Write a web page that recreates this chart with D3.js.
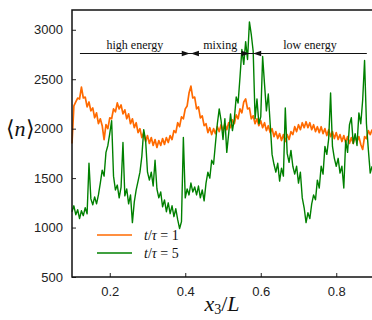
<!DOCTYPE html>
<html>
<head>
<meta charset="utf-8">
<script src="https://cdn.jsdelivr.net/npm/d3@7"></script>
<style>
  body { margin: 0; background: #fff; }
  svg { display: block; }
  .tick text { font-family: "Liberation Sans", Arial, sans-serif; font-size: 13px; fill: #222; }
  .serif { font-family: "Liberation Serif", "Times New Roman", serif; fill: #111; }
</style>
</head>
<body>
<svg id="chart" width="372" height="320"></svg>
<script>
// sample positions along x3/L
const x3 = [
  0.100, 0.105, 0.110, 0.115, 0.120, 0.125, 0.130, 0.135, 0.140, 0.145,
  0.150, 0.155, 0.160, 0.165, 0.170, 0.175, 0.180, 0.185, 0.190, 0.195,
  0.200, 0.205, 0.210, 0.215, 0.220, 0.225, 0.230, 0.235, 0.240, 0.245,
  0.250, 0.255, 0.260, 0.265, 0.270, 0.275, 0.280, 0.285, 0.290, 0.295,
  0.300, 0.305, 0.310, 0.315, 0.320, 0.325, 0.330, 0.335, 0.340, 0.345,
  0.350, 0.355, 0.360, 0.365, 0.370, 0.375, 0.380, 0.385, 0.390, 0.395,
  0.400, 0.405, 0.410, 0.415, 0.420, 0.425, 0.430, 0.435, 0.440, 0.445,
  0.450, 0.455, 0.460, 0.465, 0.470, 0.475, 0.480, 0.485, 0.490, 0.495,
  0.500, 0.505, 0.510, 0.515, 0.520, 0.525, 0.530, 0.535, 0.540, 0.545,
  0.550, 0.555, 0.560, 0.565, 0.570, 0.575, 0.580, 0.585, 0.590, 0.595,
  0.600, 0.605, 0.610, 0.615, 0.620, 0.625, 0.630, 0.635, 0.640, 0.645,
  0.650, 0.655, 0.660, 0.665, 0.670, 0.675, 0.680, 0.685, 0.690, 0.695,
  0.700, 0.705, 0.710, 0.715, 0.720, 0.725, 0.730, 0.735, 0.740, 0.745,
  0.750, 0.755, 0.760, 0.765, 0.770, 0.775, 0.780, 0.785, 0.790, 0.795,
  0.800, 0.805, 0.810, 0.815, 0.820, 0.825, 0.830, 0.835, 0.840, 0.845,
  0.850, 0.855, 0.860, 0.865, 0.870, 0.875, 0.880, 0.885, 0.890, 0.895
];

// <n> at t/tau = 1
const nT1 = [
  1850, 2230, 2270, 2310, 2300, 2420, 2310, 2320, 2220, 2270,
  2180, 2210, 2110, 2160, 2050, 2100, 2030, 1890, 2040, 2000,
  2110, 2100, 2200, 2170, 2260, 2200, 2240, 2150, 2190, 2100,
  2150, 2050, 2100, 2010, 2060, 1960, 2000, 1910, 1960, 1870,
  1930, 1850, 1910, 1830, 1890, 1810, 1880, 1830, 1900, 1840,
  1910, 1860, 1930, 1890, 1980, 1960, 2060, 2020, 2120, 2100,
  2200, 2230, 2360, 2430, 2310, 2320, 2200, 2220, 2110, 2130,
  2030, 2050, 1960, 2010, 1940, 2000, 1950, 2020, 1970, 2040,
  1980, 2050, 1990, 2060, 2010, 2090, 2050, 2140, 2100, 2200,
  2160, 2270, 2300, 2200, 2210, 2100, 2130, 2050, 2100, 2030,
  2080, 2010, 2060, 1980, 2030, 1960, 2000, 1920, 1970, 1900,
  1950, 1880, 1940, 1870, 1940, 1890, 1970, 1940, 2020, 1970,
  2040, 1990, 2060, 2010, 2070, 2010, 2060, 1990, 2040, 1970,
  2020, 1960, 2020, 1950, 2000, 1930, 1990, 1920, 1970, 1900,
  1960, 1890, 1940, 1870, 1930, 1860, 1920, 1850, 1910, 1850,
  1920, 1870, 1920, 1840, 1790, 1920, 1900, 1980, 1940, 1990
];

// <n> at t/tau = 5
const nT5 = [
  1160, 1220, 1130, 1180, 1090, 1170, 1120, 1200, 1140, 1650,
  1290, 1230, 1310, 1240, 1330, 1450, 1580, 1520, 1760, 1830,
  1950, 2080, 1520, 1380, 1430, 1300, 1410, 1860, 1320, 1390,
  1240, 1330, 1050, 1260, 1380, 1470, 1560, 1720, 1990, 1880,
  1560, 1480, 1560, 1420, 1680, 1390, 1300, 1360, 1210, 1280,
  1160, 1250, 1140, 1220, 1110, 1190, 1080, 990, 1060, 1910,
  1300, 1390, 1330, 1450, 1360, 1410, 1330, 1420, 1300, 1380,
  1270, 1450, 1560, 1500, 1680, 1640, 1850, 2050, 2200, 2080,
  1890, 2100, 1760, 1950, 2150, 1980, 2100, 2320, 2260, 2520,
  2800, 2650, 2880, 2700, 3080, 2950, 2780, 2100, 2300, 2050,
  2120, 2730, 2450, 2180, 2350, 2050, 1740, 1640, 1560, 1650,
  1470, 1600, 1520, 2210, 1750, 1660, 1780, 1620, 1540, 1620,
  1450, 1560, 1300, 1200, 1050, 1150, 1090, 1240, 1330, 1280,
  1480, 1400, 1620, 1540, 1820, 1740, 1900, 2360, 1820, 1700,
  1620, 1700, 1550, 1620, 1400, 1880, 1760, 2040, 2110, 1850,
  1950, 1830, 2160, 2050, 2290, 2690, 2050, 1790, 1550, 1620
];

const xTicks = [0.2, 0.4, 0.6, 0.8];
const yTicks = [500, 1000, 1500, 2000, 2500, 3000];

// region annotations: [label, start, end]
const regions = [
  ['high energy', 0.121, 0.412],
  ['mixing', 0.415, 0.570],
  ['low energy', 0.580, 0.881]
];
const regionLevel = 2760;

const legendItems = [
  { t: '1', color: '#ff6a00' },
  { t: '5', color: '#008000' }
];

const svg = d3.select('#chart');
const margin = { left: 72, top: 10, bottom: 43 };
const height = 320;

const x = d3.scaleLinear().domain([0.1, 0.9]).range([margin.left, 374]);
const y = d3.scaleLinear().domain([500, 3200]).range([height - margin.bottom, margin.top]);

const plot = svg.append('g');
const line = (vals) => d3.line().x((d, i) => x(x3[i])).y((d) => y(d))(vals);

plot.append('path')
  .attr('d', line(nT1))
  .attr('fill', 'none')
  .attr('stroke', legendItems[0].color)
  .attr('stroke-width', 1.7)
  .attr('stroke-linejoin', 'round');

plot.append('path')
  .attr('d', line(nT5))
  .attr('fill', 'none')
  .attr('stroke', legendItems[1].color)
  .attr('stroke-width', 1.4)
  .attr('stroke-linejoin', 'round');

// axes, ticks pointing inward
const xAxis = d3.axisBottom(x).tickValues(xTicks).tickSizeInner(-4).tickSizeOuter(0).tickPadding(10)
  .tickFormat(d3.format('.1f'));
svg.append('g')
  .attr('transform', `translate(0,${y(500)})`)
  .call(xAxis)
  .call((g) => g.select('.domain').remove());

const yAxis = d3.axisLeft(y).tickValues(yTicks).tickSizeInner(-4).tickSizeOuter(0).tickPadding(9)
  .tickFormat(d3.format('d'));
svg.append('g')
  .attr('transform', `translate(${margin.left},0)`)
  .call(yAxis)
  .call((g) => g.select('.domain').remove());

svg.selectAll('.tick line').attr('stroke', '#222');

// frame
svg.append('rect')
  .attr('x', x(0.1)).attr('y', y(3200))
  .attr('width', x(0.9) - x(0.1)).attr('height', y(500) - y(3200))
  .attr('fill', 'none').attr('stroke', '#111').attr('stroke-width', 1.5);

// region annotations with arrows
const ay = y(regionLevel);
const ann = svg.append('g');
ann.append('line')
  .attr('x1', x(regions[0][1])).attr('x2', x(regions[2][2]))
  .attr('y1', ay).attr('y2', ay)
  .attr('stroke', '#111').attr('stroke-width', 1.2);

const arrowHead = (tip, dir) => {
  const len = 8, half = 2.8;
  ann.append('path')
    .attr('d', `M${tip},${ay}L${tip - dir * len},${ay - half}L${tip - dir * len},${ay + half}Z`)
    .attr('fill', '#111');
};
arrowHead(x(regions[0][2]), 1);
arrowHead(x(regions[1][1]), -1);
arrowHead(x(regions[1][2]), 1);
arrowHead(x(regions[2][1]), -1);

ann.selectAll('text.region')
  .data(regions)
  .join('text')
  .attr('class', 'region serif')
  .attr('x', (d) => x((d[1] + d[2]) / 2))
  .attr('y', ay - 5)
  .attr('text-anchor', 'middle')
  .attr('font-size', 12)
  .text((d) => d[0]);

// legend
const leg = svg.append('g');
legendItems.forEach((item, i) => {
  const ly = 235 + i * 18;
  leg.append('line')
    .attr('x1', 97).attr('x2', 132).attr('y1', ly).attr('y2', ly)
    .attr('stroke', item.color).attr('stroke-width', 1.5);
  const txt = leg.append('text')
    .attr('class', 'serif')
    .attr('x', 144).attr('y', ly + 5)
    .attr('font-size', 14);
  txt.append('tspan').attr('font-style', 'italic').text('t');
  txt.append('tspan').text('/');
  txt.append('tspan').attr('font-style', 'italic').text('τ');
  txt.append('tspan').text(' = ' + item.t);
});

// axis titles
const xt = svg.append('text')
  .attr('class', 'serif')
  .attr('x', 222).attr('y', 311)
  .attr('text-anchor', 'middle')
  .attr('font-size', 22);
xt.append('tspan').attr('font-style', 'italic').text('x');
xt.append('tspan').attr('font-size', 14).attr('dy', 3).text('3');
xt.append('tspan').attr('dy', -3).text('/');
xt.append('tspan').attr('font-style', 'italic').text('L');

const yt = svg.append('text')
  .attr('class', 'serif')
  .attr('x', 20).attr('y', 136)
  .attr('text-anchor', 'middle')
  .attr('font-size', 22);
yt.append('tspan').text('⟨');
yt.append('tspan').attr('font-style', 'italic').text('n');
yt.append('tspan').text('⟩');
</script>
</body>
</html>
